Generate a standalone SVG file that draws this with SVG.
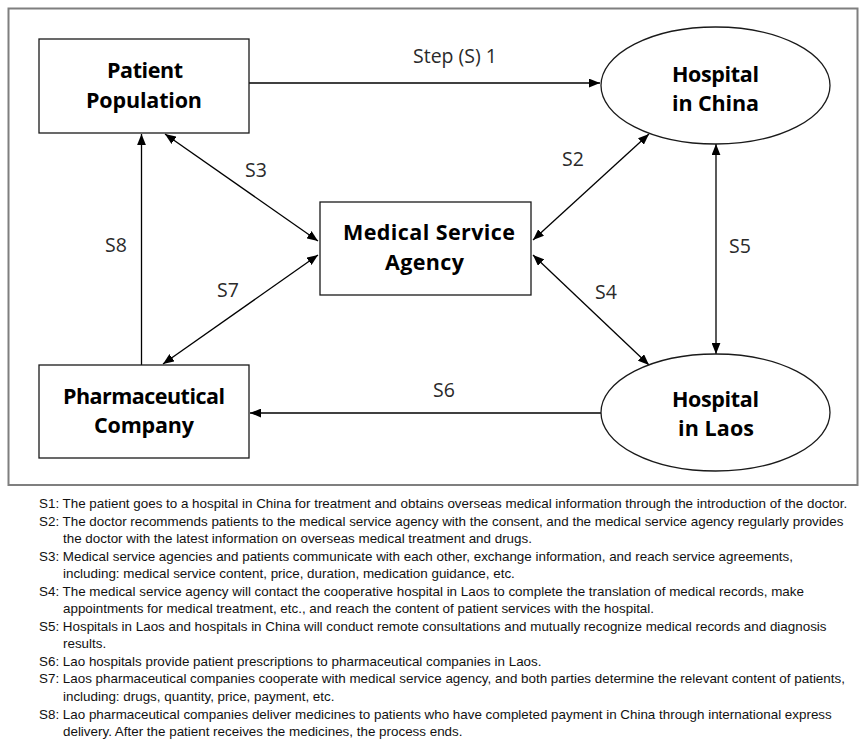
<svg xmlns="http://www.w3.org/2000/svg" width="866" height="755" viewBox="0 0 866 755">
<style>
.node{fill:#fff;stroke:#1a1a1a;stroke-width:1.3}
.nt{font-family:"Open Sans","Noto Sans",sans-serif;font-weight:bold;font-size:21.5px;fill:#000;text-anchor:middle}
.lbl{font-family:"Open Sans","Noto Sans",sans-serif;font-size:19.5px;fill:#2a2a2a;text-anchor:middle}
.conn{stroke:#000;stroke-width:1.3;fill:none}
.note{font-family:"Liberation Sans",Arial,sans-serif;font-size:13.4px;fill:#111}
</style>
<defs>
<marker id="ah" viewBox="0 0 10 8" refX="10" refY="4" markerWidth="11" markerHeight="9" markerUnits="userSpaceOnUse" orient="auto-start-reverse">
<path d="M0,0 L10,4 L0,8 z" fill="#000"/>
</marker>
</defs>
<rect x="0" y="0" width="866" height="755" fill="#fff"/>
<rect x="8.5" y="8.5" width="849" height="476.5" fill="none" stroke="#7f7f7f" stroke-width="2"/>

<g id="connectors">
<path class="conn" d="M249,83 H600" marker-end="url(#ah)"/>
<path class="conn" d="M165,134 L318,241" marker-start="url(#ah)" marker-end="url(#ah)"/>
<path class="conn" d="M141.5,365 V134" marker-end="url(#ah)"/>
<path class="conn" d="M318,255 L163,364" marker-start="url(#ah)" marker-end="url(#ah)"/>
<path class="conn" d="M533,240 L649,134" marker-start="url(#ah)" marker-end="url(#ah)"/>
<path class="conn" d="M716,144 V354" marker-start="url(#ah)" marker-end="url(#ah)"/>
<path class="conn" d="M533,255 L649,365" marker-start="url(#ah)" marker-end="url(#ah)"/>
<path class="conn" d="M601,413 H250" marker-end="url(#ah)"/>
<text class="lbl" x="455" y="63">Step (S) 1</text>
<text class="lbl" x="256" y="177">S3</text>
<text class="lbl" x="573" y="166">S2</text>
<text class="lbl" x="116" y="252">S8</text>
<text class="lbl" x="228" y="297">S7</text>
<text class="lbl" x="740" y="253">S5</text>
<text class="lbl" x="606" y="299">S4</text>
<text class="lbl" x="444" y="397">S6</text>
</g>

<g id="patient">
<rect class="node" x="39" y="39" width="210" height="94"/>
<text class="nt" x="145" y="78" textLength="76">Patient</text>
<text class="nt" x="144" y="108" textLength="116">Population</text>
</g>
<g id="hospital-china">
<ellipse class="node" cx="715.5" cy="85.5" rx="114.5" ry="58.5"/>
<text class="nt" x="715.5" y="82" textLength="87">Hospital</text>
<text class="nt" x="715.5" y="111" textLength="87">in China</text>
</g>
<g id="agency">
<rect class="node" x="320" y="202" width="211" height="93"/>
<text class="nt" x="429" y="240" textLength="172">Medical Service</text>
<text class="nt" x="424.5" y="270" textLength="79">Agency</text>
</g>
<g id="pharma">
<rect class="node" x="39" y="365" width="210" height="93"/>
<text class="nt" x="144" y="404" textLength="162">Pharmaceutical</text>
<text class="nt" x="144" y="433" textLength="100">Company</text>
</g>
<g id="hospital-laos">
<ellipse class="node" cx="715.5" cy="412.5" rx="114.5" ry="58.5"/>
<text class="nt" x="715.5" y="407" textLength="87">Hospital</text>
<text class="nt" x="716" y="436" textLength="76">in Laos</text>
</g>

<g id="notes">
<text class="note" x="39" y="508">S1: The patient goes to a hospital in China for treatment and obtains overseas medical information through the introduction of the doctor.</text>
<text class="note" x="39" y="525.5">S2: The doctor recommends patients to the medical service agency with the consent, and the medical service agency regularly provides</text>
<text class="note" x="63" y="543">the doctor with the latest information on overseas medical treatment and drugs.</text>
<text class="note" x="39" y="560.6">S3: Medical service agencies and patients communicate with each other, exchange information, and reach service agreements,</text>
<text class="note" x="63" y="578.2">including: medical service content, price, duration, medication guidance, etc.</text>
<text class="note" x="39" y="595.7">S4: The medical service agency will contact the cooperative hospital in Laos to complete the translation of medical records, make</text>
<text class="note" x="63" y="613.2">appointments for medical treatment, etc., and reach the content of patient services with the hospital.</text>
<text class="note" x="39" y="630.8">S5: Hospitals in Laos and hospitals in China will conduct remote consultations and mutually recognize medical records and diagnosis</text>
<text class="note" x="63" y="648.3">results.</text>
<text class="note" x="39" y="665.9">S6: Lao hospitals provide patient prescriptions to pharmaceutical companies in Laos.</text>
<text class="note" x="39" y="683.4">S7: Laos pharmaceutical companies cooperate with medical service agency, and both parties determine the relevant content of patients,</text>
<text class="note" x="63" y="701">including: drugs, quantity, price, payment, etc.</text>
<text class="note" x="39" y="718.5">S8: Lao pharmaceutical companies deliver medicines to patients who have completed payment in China through international express</text>
<text class="note" x="63" y="736">delivery. After the patient receives the medicines, the process ends.</text>
</g>
</svg>
